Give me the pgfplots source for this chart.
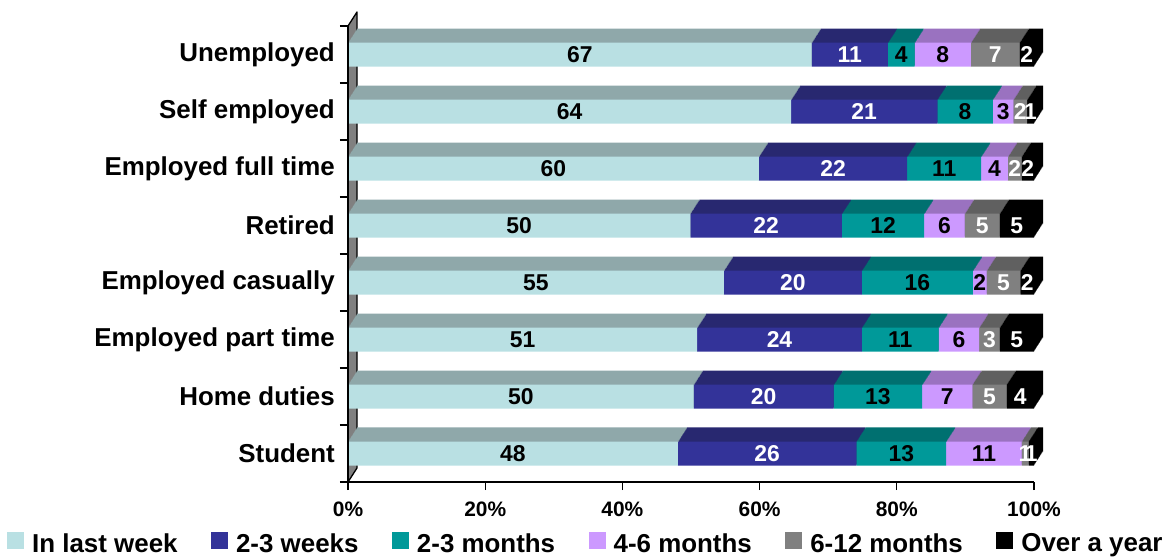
\documentclass[border=0pt]{standalone}
\usepackage{pgfplots}
\usepackage{pgfplotstable}
\pgfplotsset{compat=1.18}
\usepackage{fontspec}
\setmainfont{Liberation Sans}
\definecolor{fa}{HTML}{B9E0E3}
\definecolor{fb}{HTML}{333399}
\definecolor{fc}{HTML}{009999}
\definecolor{fd}{HTML}{CC99FF}
\definecolor{fe}{HTML}{808080}
\definecolor{ff}{HTML}{000000}
\definecolor{ta}{HTML}{8FA8AA}
\definecolor{tb}{HTML}{282870}
\definecolor{tc}{HTML}{007070}
\definecolor{td}{HTML}{9A72C0}
\definecolor{te}{HTML}{606060}
\definecolor{tf}{HTML}{000000}

\pgfplotstableread{
idx a b c d e f la lb lc ld le lf
7 67.6 11.1 3.9 8.2 7.1 2.1 67 11 4 8 7 2
6 64.6 21.3 8.1 3.0 2.0 1.0 64 21 8 3 2 1
5 59.9 21.6 10.8 3.9 2.0 1.8 60 22 11 4 2 2
4 49.9 22.1 12.0 5.9 5.1 5.0 50 22 12 6 5 5
3 54.8 20.1 16.2 2.0 4.9 2.0 55 20 16 2 5 2
2 50.9 24.0 11.2 5.9 3.0 5.0 51 24 11 6 3 5
1 50.4 20.4 12.9 7.3 5.0 4.0 50 20 13 7 5 4
0 48.1 26.0 13.1 11.0 1.0 0.8 48 26 13 11 1 1
}\data
\pgfplotstablecreatecol[create col/expr={\thisrow{a}/2}]{ma}{\data}%
\pgfplotstablecreatecol[create col/expr={\thisrow{a}+\thisrow{b}/2}]{mb}{\data}%
\pgfplotstablecreatecol[create col/expr={\thisrow{a}+\thisrow{b}+\thisrow{c}/2}]{mc}{\data}%
\pgfplotstablecreatecol[create col/expr={\thisrow{a}+\thisrow{b}+\thisrow{c}+\thisrow{d}/2}]{md}{\data}%
\pgfplotstablecreatecol[create col/expr={\thisrow{a}+\thisrow{b}+\thisrow{c}+\thisrow{d}+\thisrow{e}/2}]{me}{\data}%
\pgfplotstablecreatecol[create col/expr={\thisrow{a}+\thisrow{b}+\thisrow{c}+\thisrow{d}+\thisrow{e}+\thisrow{f}/2}]{mf}{\data}%

\pgfplotsset{
  base/.style={scale only axis, width=686bp, height=456bp,
    xmin=0, xmax=100, ymin=-0.5, ymax=7.5},
  depth/.style={base, hide axis, xbar stacked, bar width=24bp, clip=false},
  lbl/.style={draw=none, mark=none, nodes near coords, point meta=explicit symbolic,
    every node near coord/.append style={anchor=center, inner sep=0pt,
      font=\fontsize{23}{27}\selectfont\bfseries, text=#1}},
}

\begin{document}%
\begin{tikzpicture}
% side wall
\fill[fe] (0,0) -- (9bp,14bp) -- (9bp,470bp) -- (0,456bp) -- cycle;
\draw[line width=1.3bp, line join=round] (0,456bp) -- (9bp,470bp) -- (9bp,14bp) -- (0,0);
% depth (top and side faces)
\foreach \k in {14,13,...,1}{
\begin{axis}[depth, at={(\k*0.643bp,\k*1bp)}]
  \addplot[fill=ta, draw=none] table[x=a, y=idx] {\data};
  \addplot[fill=tb, draw=none] table[x=b, y=idx] {\data};
  \addplot[fill=tc, draw=none] table[x=c, y=idx] {\data};
  \addplot[fill=td, draw=none] table[x=d, y=idx] {\data};
  \addplot[fill=te, draw=none] table[x=e, y=idx] {\data};
  \addplot[fill=tf, draw=none] table[x=f, y=idx] {\data};
\end{axis}
}
% front faces
\begin{axis}[base, xbar stacked, bar width=24bp, axis on top,
  axis x line*=bottom, axis y line*=left,
  axis line style={line width=1.3bp, black},
  every tick/.style={black, line width=1.3bp},
  major tick length=8bp, tick align=outside,
  xtick={0,20,...,100},
  /pgf/number format/assume math mode=true,
  xticklabel={\pgfmathprintnumber{\tick}\%},
  xticklabel style={font=\fontsize{21}{25}\selectfont\bfseries, inner sep=0pt, anchor=north, yshift=-12bp},
  ytick={-0.5,0.5,...,7.5}, yticklabels={},
  extra y ticks={0,1,...,7},
  extra y tick labels={Student,Home duties,Employed part time,Employed casually,Retired,Employed full time,Self employed,Unemployed},
  extra y tick style={major tick length=0pt},
  yticklabel style={font=\fontsize{26}{30}\selectfont\bfseries, inner sep=0pt, anchor=east, xshift=-13bp},
  legend columns=6,
  legend style={at={(-0.4971,-0.1338)}, anchor=west, draw=none, fill=none, inner sep=0pt,
    font=\fontsize{26}{30}\selectfont\bfseries,
    nodes={inner sep=0pt},
    /tikz/every odd column/.append style={column sep=8bp},
    /tikz/every even column/.append style={column sep=33.5bp}},
  legend image code/.code={\fill[#1] (0bp,-6bp) rectangle (17bp,11bp);},
]
  \addplot[fill=fa, draw=none] table[x=a, y=idx] {\data};
  \addplot[fill=fb, draw=none] table[x=b, y=idx] {\data};
  \addplot[fill=fc, draw=none] table[x=c, y=idx] {\data};
  \addplot[fill=fd, draw=none] table[x=d, y=idx] {\data};
  \addplot[fill=fe, draw=none] table[x=e, y=idx] {\data};
  \addplot[fill=ff, draw=none] table[x=f, y=idx] {\data};
  \legend{In last week,2-3 weeks,2-3 months,4-6 months,6-12 months,Over a year}
\end{axis}
% value labels
\begin{axis}[base, hide axis, clip=false]
  \addplot[lbl=black] table[x=ma, y=idx, meta=la] {\data};
  \addplot[lbl=white] table[x=mb, y=idx, meta=lb] {\data};
  \addplot[lbl=black] table[x=mc, y=idx, meta=lc] {\data};
  \addplot[lbl=black] table[x=md, y=idx, meta=ld] {\data};
  \addplot[lbl=white] table[x=me, y=idx, meta=le] {\data};
  \addplot[lbl=white] table[x=mf, y=idx, meta=lf] {\data};
\end{axis}
\pgfresetboundingbox
\path[use as bounding box] (-348bp,-75bp) rectangle (828bp,482bp);
\end{tikzpicture}%
\end{document}
